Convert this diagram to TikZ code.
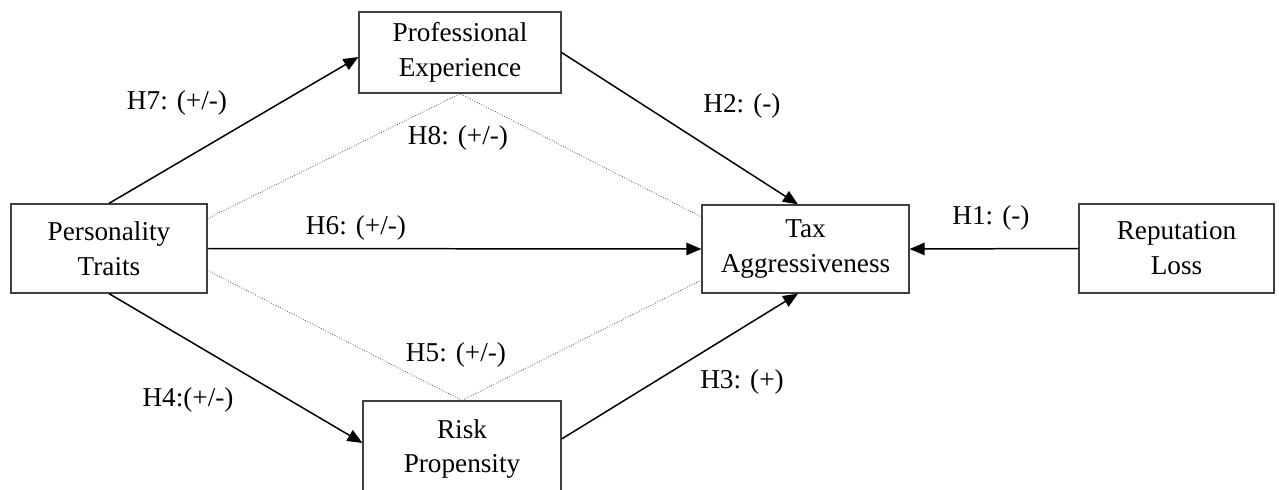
\documentclass[tikz,border=0pt]{standalone}
\usepackage{fontspec}
\setmainfont{Liberation Serif}
\usetikzlibrary{arrows.meta}

\begin{document}
\begin{tikzpicture}[
x=0.02cm, y=-0.02cm,
every node/.style={font=\fontsize{15.5}{19.9}\selectfont},
varbox/.style={draw=black!75, line width=0.7pt, align=center, inner sep=0pt},
link/.style={line width=0.85pt, -{Triangle[length=8.5pt, width=7pt]}},
cross/.style={densely dotted, line width=0.45pt, black!70},
hyp/.style={inner sep=1pt}
]

\useasboundingbox (0,0) rectangle (1279,490);

% variables
\node[varbox, minimum width=4.04cm, minimum height=1.62cm] (prof) at (460, 52.5) {Professional\\Experience};
\node[varbox, minimum width=3.92cm, minimum height=1.78cm] (pers) at (109, 248.5) {Personality\\Traits};
\node[varbox, minimum width=4.14cm, minimum height=1.76cm] (tax) at (805.5, 249) {Tax\\Aggressiveness};
\node[varbox, minimum width=3.9cm, minimum height=1.78cm] (rep) at (1176.5, 248.5) {Reputation\\Loss};
\node[varbox, minimum width=3.96cm, minimum height=1.92cm] (risk) at (462, 449) {Risk\\Propensity};


% moderating paths
\draw[cross] ([yshift=0.6cm]pers.east) -- (prof.south) -- ([yshift=0.64cm]tax.west);
\draw[cross] ([yshift=-0.44cm]pers.east) -- (risk.north) -- ([yshift=-0.62cm]tax.west);


% direct paths
\draw[link] (pers.north) -- ([yshift=-0.09cm]prof.west);
\draw[link] (pers.south) -- ([yshift=0.12cm]risk.west);
\draw[link] (pers.east) -- (tax.west);
\draw[link] (prof.east) -- ([xshift=-0.15cm]tax.north);
\draw[link] ([yshift=0.2cm]risk.east) -- ([xshift=-0.15cm]tax.south);
\draw[link] (rep.west) -- (tax.east);


% hypotheses
\node[hyp] (h7) at (177, 103) {H7: (+/-)};
\node[hyp] (h8) at (458, 138) {H8: (+/-)};
\node[hyp] (h2) at (742, 106) {H2: (-)};
\node[hyp] (h6) at (356, 228) {H6: (+/-)};
\node[hyp] (h1) at (991, 218) {H1: (-)};
\node[hyp] (h5) at (456, 355) {H5: (+/-)};
\node[hyp] (h4) at (188, 400) {H4:(+/-)};
\node[hyp] (h3) at (742, 382) {H3: (+)};

\end{tikzpicture}
\end{document}
